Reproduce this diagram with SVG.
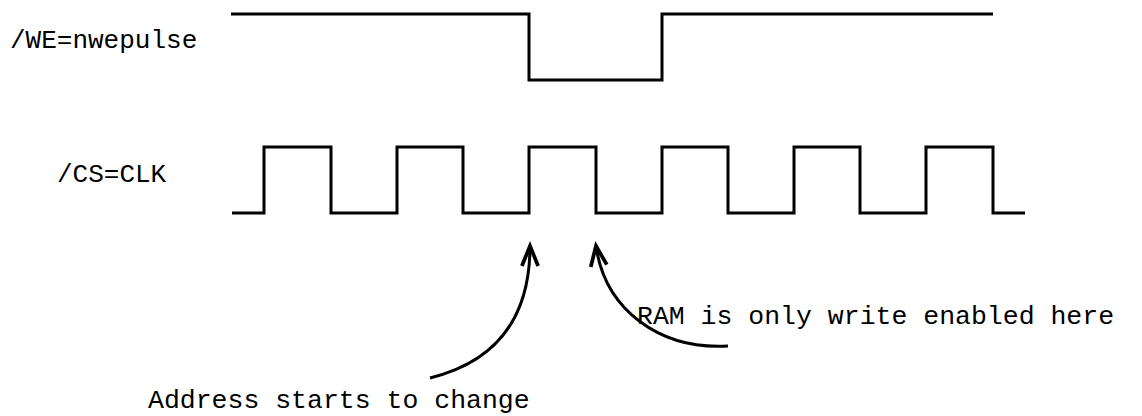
<svg xmlns="http://www.w3.org/2000/svg" width="1142" height="416" viewBox="0 0 1142 416">
<style>
.sig{fill:none;stroke:#000;stroke-width:3;stroke-linejoin:miter}
.arr{fill:none;stroke:#000;stroke-width:3}
.lbl{font-family:"Liberation Mono","Courier New",monospace;font-size:26px;fill:#000}
.note{font-size:26.5px}
</style>
<defs>
<marker id="open" markerUnits="userSpaceOnUse" markerWidth="30" markerHeight="30" viewBox="-20 -10 24 20" refX="0" refY="0" orient="auto">
<path d="M-16,-6.5 L0,0 L-16,6.5" fill="none" stroke="#000" stroke-width="3"/>
</marker>
</defs>
<rect width="1142" height="416" fill="#fff"/>
<g id="we">
<text class="lbl" x="10" y="48">/WE=nwepulse</text>
<path class="sig" d="M231,14 H529 V80 H662 V14 H993"/>
</g>
<g id="cs">
<text class="lbl" x="57" y="182">/CS=CLK</text>
<path class="sig" d="M232,213 H264 V147 H331 V213 H397 V147 H463 V213 H529 V147 H596 V213 H662 V147 H728 V213 H794 V147 H860 V213 H926 V147 H993 V213 H1025"/>
</g>
<g id="note-address">
<text class="lbl note" x="148" y="408">Address starts to change</text>
</g>
<g id="note-ram">
<text class="lbl note" x="637" y="324">RAM is only write enabled here</text>
</g>
<g id="connectors">
<path class="arr" d="M430,378 C495,362 530,320 530,246" marker-end="url(#open)"/>
<path class="arr" d="M728,346 C660,350 605,310 596,246" marker-end="url(#open)"/>
</g>
</svg>
